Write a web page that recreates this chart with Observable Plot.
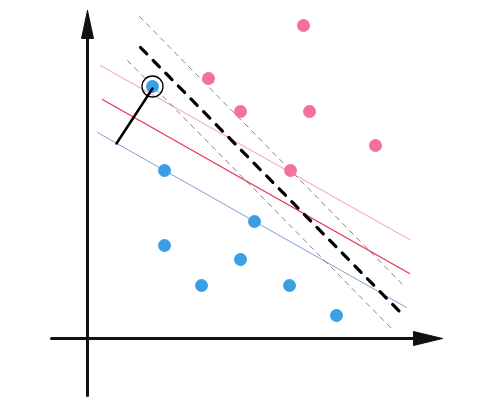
<!DOCTYPE html>
<html>
<head>
<meta charset="utf-8">
<script src="https://cdn.jsdelivr.net/npm/d3@7"></script>
<script src="https://cdn.jsdelivr.net/npm/@observablehq/plot@0.6"></script>
<style>
  html, body { margin: 0; padding: 0; background: #fff; }
</style>
</head>
<body>
<div id="chart"></div>
<script>
// Class A (pink) and class B (blue) samples
const pinkX = [216, 121, 153, 222, 288, 203];
const pinkY = [313, 260, 227, 227, 193, 168];
const blueX = [65, 77, 167, 77, 153, 114, 202, 249];
const blueY = [252, 168, 117, 93, 79, 53, 53, 23];

// Highlighted support vector
const supportX = [65];
const supportY = [252];

// Lines: [x1, y1, x2, y2]
const boldDashed = [53, 291, 316, 23];
const redLine = [15, 239, 322, 65];
const pinkLine = [13, 273, 322, 99];
const blueLine = [10, 206, 319, 31];
const thinDashedUpper = [52, 322, 318, 51];
const thinDashedLower = [40, 278, 306, 8];
const distanceSeg = [29, 195, 65, 250];

// Axes
const xAxisLine = [-36, 0, 326, 0];
const yAxisLine = [0, -57, 0, 300];
const xArrow = [[355, 0], [326, 7], [326, -7], [355, 0]];
const yArrow = [[0, 328], [-6, 300], [6, 300], [0, 328]];

const seg = s => [{x: s[0], y: s[1]}, {x: s[2], y: s[3]}];
const pts = (xs, ys) => xs.map((x, i) => ({x, y: ys[i]}));
const tri = t => t.map(([x, y]) => ({x, y}));

const chart = Plot.plot({
  width: 477,
  height: 403,
  margin: 0,
  x: {domain: [-87, 390], axis: null},
  y: {domain: [-65, 338], axis: null},
  marks: [
    Plot.line(seg(pinkLine), {x: "x", y: "y", stroke: "#f3b3c1", strokeWidth: 1.2}),
    Plot.line(seg(redLine), {x: "x", y: "y", stroke: "#e8304c", strokeWidth: 1.2}),
    Plot.line(seg(blueLine), {x: "x", y: "y", stroke: "#7f9fd4", strokeWidth: 1}),
    Plot.line(seg(thinDashedUpper), {x: "x", y: "y", stroke: "#666", strokeWidth: 0.8, strokeDasharray: "5,5"}),
    Plot.line(seg(thinDashedLower), {x: "x", y: "y", stroke: "#666", strokeWidth: 0.8, strokeDasharray: "5,5"}),
    Plot.line(seg(boldDashed), {x: "x", y: "y", stroke: "#000", strokeWidth: 3.2, strokeDasharray: "9,9"}),
    Plot.line(seg(xAxisLine), {x: "x", y: "y", stroke: "#111", strokeWidth: 3}),
    Plot.line(seg(yAxisLine), {x: "x", y: "y", stroke: "#111", strokeWidth: 3}),
    Plot.line(tri(xArrow), {x: "x", y: "y", stroke: "#111", fill: "#111", strokeWidth: 1}),
    Plot.line(tri(yArrow), {x: "x", y: "y", stroke: "#111", fill: "#111", strokeWidth: 1}),
    Plot.dot(pts(pinkX, pinkY), {x: "x", y: "y", r: 6.5, fill: "#f2719d", stroke: "none"}),
    Plot.dot(pts(blueX, blueY), {x: "x", y: "y", r: 6.5, fill: "#3a9fe6", stroke: "none"}),
    Plot.line(seg(distanceSeg), {x: "x", y: "y", stroke: "#000", strokeWidth: 2.5}),
    Plot.dot(pts(supportX, supportY), {x: "x", y: "y", r: 10.5, fill: "none", stroke: "#000", strokeWidth: 1.3})
  ]
});
document.getElementById("chart").appendChild(chart);
</script>
</body>
</html>
